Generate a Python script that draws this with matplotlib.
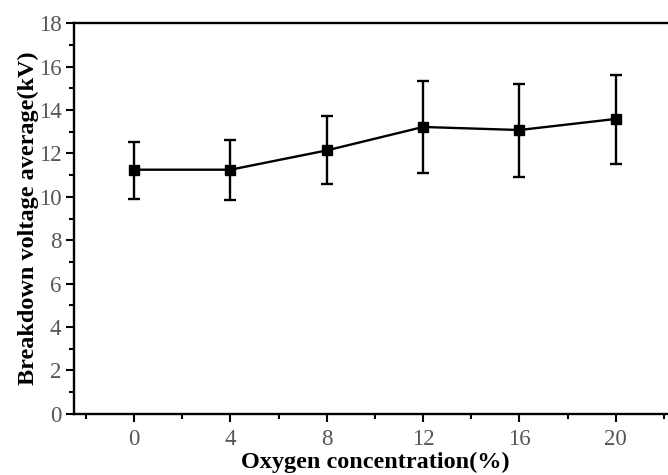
import matplotlib
matplotlib.use("Agg")
import matplotlib.pyplot as plt
from matplotlib.ticker import MultipleLocator
import numpy as np

oxygen = [0, 4, 8, 12, 16, 20]
voltage = [11.25, 11.25, 12.14, 13.22, 13.08, 13.59]
err_upper = [12.52, 12.62, 13.72, 15.32, 15.21, 15.63]
err_lower = [9.92, 9.86, 10.60, 11.09, 10.91, 11.52]

plt.rcParams['font.family'] = ['Liberation Serif', 'DejaVu Serif']

fig = plt.figure(figsize=(6.68, 4.75), dpi=100)
ax = fig.add_axes([74/668, 1-413.7/475, (675.9-74)/668, (413.7-23.3)/475])

v = np.array(voltage)
yerr = [v - np.array(err_lower), np.array(err_upper) - v]
ax.errorbar(oxygen, voltage, yerr=yerr, color='black', lw=1.7, elinewidth=1.7,
            capsize=4.5, capthick=1.7, marker='s', markersize=7.5, mfc='black', mec='black')

ax.set_xlim(-2.5, 22.5)
ax.set_ylim(0, 18)
ax.xaxis.set_major_locator(MultipleLocator(4))
ax.xaxis.set_minor_locator(MultipleLocator(2))
ax.yaxis.set_major_locator(MultipleLocator(2))
ax.yaxis.set_minor_locator(MultipleLocator(1))

for s in ax.spines.values():
    s.set_linewidth(1.7)
ax.spines['right'].set_visible(False)

ax.tick_params(axis='both', which='major', direction='out', length=6, width=1.5,
               labelsize=16.5, labelcolor='#555555')
ax.tick_params(axis='x', which='major', pad=5)
ax.tick_params(axis='y', which='major', pad=3)
ax.tick_params(axis='both', which='minor', direction='out', length=3.5, width=1.5)
ax.tick_params(top=False, right=False, which='both')

ax.set_xlabel('Oxygen concentration(%)', fontsize=17.5, fontweight='bold', labelpad=1)
ax.set_ylabel('Breakdown voltage average(kV)', fontsize=17.5, fontweight='bold', labelpad=0)

fig.savefig('out.png', dpi=100)
